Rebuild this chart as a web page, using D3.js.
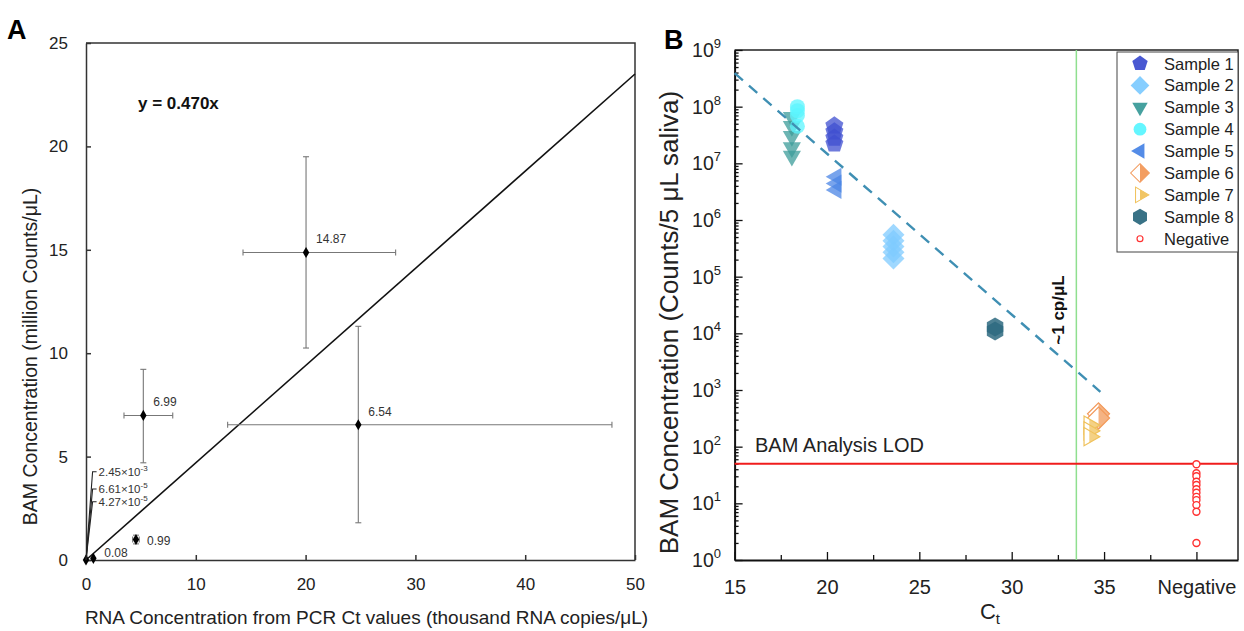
<!DOCTYPE html>
<html>
<head>
<meta charset="utf-8">
<script src="https://cdn.jsdelivr.net/npm/d3@7"></script>
<style>
  body { margin: 0; background: #fff; }
  svg { display: block; font-family: "Liberation Sans", Arial, sans-serif; }
</style>
</head>
<body>
<svg id="chart" width="1244" height="631"></svg>
<script>
// ---- panel A data (RNA vs BAM) ----
const rnaX = [0, 0.67, 4.55, 5.22, 20.04, 24.8]
const bamY = [0, 0.08, 0.99, 6.99, 14.87, 6.54]
const rnaLo = [0, 0.67, 4.25, 3.46, 14.3, 12.9]
const rnaHi = [0, 0.67, 4.85, 7.9, 28.2, 47.9]
const bamLo = [0, 0.08, 0.78, 4.70, 10.25, 1.8]
const bamHi = [0, 0.08, 1.2, 9.22, 19.5, 11.3]
const pointLabels = ['', '0.08', '0.99', '6.99', '14.87', '6.54']
const tinyMant = ['2.45', '6.61', '4.27']
const tinyExp = ['-3', '-5', '-5']
const slope = 0.470
const xTicksA = [0, 10, 20, 30, 40, 50]
const yTicksA = [0, 5, 10, 15, 20, 25]

// ---- panel B data (Ct vs BAM counts) ----
const sampleNames = ['Sample 1', 'Sample 2', 'Sample 3', 'Sample 4', 'Sample 5', 'Sample 6', 'Sample 7', 'Sample 8', 'Negative']
const sampleCt = [20.4, 23.6, 18.1, 18.4, 20.5, 34.7, 34.2, 29.1, 40]
const sampleCounts = [
  [4.6e7, 3.6e7, 2.8e7, 2.2e7],
  [5.5e5, 4.3e5, 3.4e5, 2.7e5, 2.1e5],
  [6.5e7, 4.5e7, 3.0e7, 1.9e7, 1.35e7],
  [1.0e8, 8.5e7, 7.0e7, 4.5e7],
  [5.8e6, 4.4e6, 3.4e6],
  [380, 320],
  [240, 190, 150],
  [1.1e4, 1.3e4],
  [49, 34, 30, 24, 21, 17.7, 15.4, 13, 11.4, 9.3, 7.1, 2.0]
]
const fitCt = [15, 34.8]
const fitCounts = [3.9e8, 930]
const lodValue = 50
const cpCt = 33.5
const xTicksB = [15, 20, 25, 30, 35, 40]
const xTickLabelsB = ['15', '20', '25', '30', '35', 'Negative']
const decades = [0, 1, 2, 3, 4, 5, 6, 7, 8, 9]

const svg = d3.select('#chart')
const font = '"Liberation Sans", Arial, sans-serif'

// =================== Panel A ===================
const xA = d3.scaleLinear().domain([0, 50]).range([86, 635])
const yA = d3.scaleLinear().domain([0, 25]).range([560, 43])
const gA = svg.append('g')

gA.append('text').attr('x', 7).attr('y', 39).attr('font-size', 27).attr('font-weight', 'bold').text('A')

// box
gA.append('path')
  .attr('d', `M${xA(0)},${yA(25)}H${xA(50)}V${yA(0)}`)
  .attr('fill', 'none').attr('stroke', '#333').attr('stroke-width', 1.5)

const axA1 = gA.append('g').attr('transform', `translate(0,${yA(0)})`)
  .call(d3.axisBottom(xA).tickValues(xTicksA).tickSize(-5).tickSizeOuter(0).tickPadding(18))
const axA2 = gA.append('g').attr('transform', `translate(${xA(0)},0)`)
  .call(d3.axisLeft(yA).tickValues(yTicksA).tickSize(-5).tickSizeOuter(0).tickPadding(18))
for (const ax of [axA1, axA2]) {
  ax.attr('font-size', 17).attr('font-family', font)
  ax.selectAll('path,line').attr('stroke', '#333').attr('stroke-width', 1.5)
  ax.selectAll('text').attr('fill', '#222')
}

gA.append('text')
  .attr('x', (xA(0) + xA(50)) / 2 + 6).attr('y', 624)
  .attr('text-anchor', 'middle').attr('font-size', 19).attr('fill', '#222')
  .text('RNA Concentration from PCR Ct values (thousand RNA copies/μL)')
gA.append('text')
  .attr('transform', `translate(37,${(yA(0) + yA(25)) / 2 + 55}) rotate(-90)`)
  .attr('text-anchor', 'middle').attr('font-size', 19.5).attr('fill', '#222')
  .text('BAM Concentration (million Counts/μL)')

// fit line
gA.append('line')
  .attr('x1', xA(0)).attr('y1', yA(0)).attr('x2', xA(50)).attr('y2', yA(slope * 50))
  .attr('stroke', '#111').attr('stroke-width', 1.6)
gA.append('text').attr('x', 138).attr('y', 109)
  .attr('font-size', 17).attr('font-weight', 'bold').attr('fill', '#111')
  .text(`y = ${slope.toFixed(3)}x`)

// error bars
const ptsA = d3.range(rnaX.length)
const errA = gA.append('g').attr('stroke', '#777').attr('stroke-width', 1.1)
ptsA.filter(i => rnaHi[i] > rnaLo[i]).forEach(i => {
  const cy = yA(bamY[i]); const cx = xA(rnaX[i])
  errA.append('line').attr('x1', xA(rnaLo[i])).attr('x2', xA(rnaHi[i])).attr('y1', cy).attr('y2', cy)
  errA.append('line').attr('x1', xA(rnaLo[i])).attr('x2', xA(rnaLo[i])).attr('y1', cy - 3).attr('y2', cy + 3)
  errA.append('line').attr('x1', xA(rnaHi[i])).attr('x2', xA(rnaHi[i])).attr('y1', cy - 3).attr('y2', cy + 3)
  errA.append('line').attr('y1', yA(bamLo[i])).attr('y2', yA(bamHi[i])).attr('x1', cx).attr('x2', cx)
  errA.append('line').attr('y1', yA(bamLo[i])).attr('y2', yA(bamLo[i])).attr('x1', cx - 3).attr('x2', cx + 3)
  errA.append('line').attr('y1', yA(bamHi[i])).attr('y2', yA(bamHi[i])).attr('x1', cx - 3).attr('x2', cx + 3)
})

gA.append('g').selectAll('path').data(ptsA).join('path')
  .attr('transform', i => `translate(${xA(rnaX[i])},${yA(bamY[i])})`)
  .attr('d', d3.symbol(d3.symbolDiamond, 36))
  .attr('fill', '#000')

gA.append('g').selectAll('text').data(ptsA.filter(i => pointLabels[i])).join('text')
  .attr('x', i => xA(rnaX[i]) + (bamY[i] < 2 ? 11 : 10))
  .attr('y', i => yA(bamY[i]) + (bamY[i] < 0.5 ? -1 : bamY[i] < 2 ? 5 : -9))
  .attr('font-size', 12).attr('fill', '#333')
  .text(i => pointLabels[i])

// leader labels for the near-zero samples
const tinyY = [4.27, 3.43, 2.82]
tinyMant.forEach((m, k) => {
  const ex = xA(0.6); const ey = yA(tinyY[k])
  gA.append('path')
    .attr('d', `M${xA(0)},${yA(0)}L${ex},${ey}H${ex + 4}`)
    .attr('fill', 'none').attr('stroke', '#222').attr('stroke-width', 1.1)
  const t = gA.append('text').attr('x', ex + 6).attr('y', ey + 4).attr('font-size', 11.5).attr('fill', '#333')
  t.append('tspan').text(`${m}×10`)
  t.append('tspan').attr('dy', -5).attr('font-size', 8).text(tinyExp[k])
})

// =================== Panel B ===================
const xEnd = 42.25
const xB = d3.scaleLinear().domain([15, xEnd]).range([734.6, 1238])
const yB = d3.scaleLog().domain([1, 1e9]).range([560, 50])
const gB = svg.append('g')

gB.append('text').attr('x', 664).attr('y', 49).attr('font-size', 27).attr('font-weight', 'bold').text('B')

gB.append('path')
  .attr('d', `M${xB(15)},${yB(1e9)}H${xB(xEnd)}V${yB(1)}`)
  .attr('fill', 'none').attr('stroke', '#222').attr('stroke-width', 1.5)

const minorY = []
decades.slice(0, -1).forEach(d => d3.range(2, 10).forEach(k => minorY.push(k * Math.pow(10, d))))
const majorY = decades.map(d => Math.pow(10, d))

const axB1 = gB.append('g').attr('transform', `translate(0,${yB(1)})`)
  .call(d3.axisBottom(xB).tickValues(xTicksB).tickSize(-8).tickSizeOuter(0).tickPadding(20)
    .tickFormat((d, i) => xTickLabelsB[i]))
gB.append('g').attr('transform', `translate(0,${yB(1)})`)
  .call(d3.axisBottom(xB).tickValues(d3.range(17.5, 40, 5)).tickSize(-5).tickSizeOuter(0).tickFormat(''))
  .call(g => g.select('.domain').remove())
const axB2 = gB.append('g').attr('transform', `translate(${xB(15)},0)`)
  .call(d3.axisLeft(yB).tickValues(majorY).tickSize(-8).tickSizeOuter(0).tickFormat(''))
gB.append('g').attr('transform', `translate(${xB(15)},0)`)
  .call(d3.axisLeft(yB).tickValues(minorY).tickSize(-4).tickSizeOuter(0).tickFormat(''))
  .call(g => g.select('.domain').remove())
gB.selectAll('.tick line').attr('stroke', '#111').attr('stroke-width', 1.3)
for (const ax of [axB1, axB2]) {
  ax.attr('font-family', font)
  ax.select('.domain').attr('stroke', '#111').attr('stroke-width', 2)
}
axB1.attr('font-size', 20).selectAll('text').attr('fill', '#222')

gB.append('g').selectAll('text').data(decades).join('text')
  .attr('x', 721).attr('y', d => yB(Math.pow(10, d)) + 7)
  .attr('text-anchor', 'end').attr('font-size', 19.5).attr('fill', '#222')
  .call(t => {
    t.append('tspan').text('10')
    t.append('tspan').attr('dy', -9).attr('font-size', 13).text(d => d)
  })

gB.append('text')
  .attr('transform', `translate(678,${(88 + 557) / 2}) rotate(-90)`)
  .attr('text-anchor', 'middle').attr('font-size', 26).attr('fill', '#222')
  .text('BAM Concentration (Counts/5 μL saliva)')
const ct = gB.append('text').attr('x', 990).attr('y', 619).attr('text-anchor', 'middle')
  .attr('font-size', 22).attr('fill', '#222')
ct.append('tspan').text('C')
ct.append('tspan').attr('dy', 5).attr('font-size', 15).text('t')

// reference lines
gB.append('line').attr('x1', xB(cpCt)).attr('x2', xB(cpCt)).attr('y1', yB(1e9)).attr('y2', yB(1))
  .attr('stroke', '#8fdf8f').attr('stroke-width', 1.5)
gB.append('line').attr('x1', xB(15)).attr('x2', xB(xEnd)).attr('y1', yB(lodValue)).attr('y2', yB(lodValue))
  .attr('stroke', '#f01c1c').attr('stroke-width', 2)
gB.append('text').attr('x', 755).attr('y', 452).attr('font-size', 20).attr('fill', '#222')
  .text('BAM Analysis LOD')
gB.append('text')
  .attr('transform', `translate(1064,310) rotate(-90)`)
  .attr('text-anchor', 'middle').attr('font-size', 17).attr('font-weight', 'bold').attr('fill', '#111')
  .text('~1 cp/μL')

// markers
const poly = (n, r, rot) => d3.range(n).map(i => {
  const a = rot + i * 2 * Math.PI / n
  return [r * Math.sin(a), -r * Math.cos(a)]
})
const closed = d3.line().curve(d3.curveLinearClosed)
const circle = r => d3.symbol(d3.symbolCircle, Math.PI * r * r)()
const shapes = [
  closed(poly(5, 9.5, 0)),
  closed(poly(4, 11, 0)),
  closed(poly(3, 10.5, Math.PI)),
  circle(7.5),
  closed(poly(3, 10.5, -Math.PI / 2)),
  closed(poly(4, 11, 0)),
  closed(poly(3, 10.5, Math.PI / 2)),
  closed(poly(6, 9.5, 0)),
  circle(3.5)
]
const colors = ['#3f4fd0', '#7fcbff', '#3c9c9a', '#5cf6ff', '#4b86e6', '#f2995a', '#f0c25c', '#2e6a80', '#ff3030']
const halfFill = [false, false, false, false, false, true, true, false, false]

const defs = svg.append('defs')
defs.append('clipPath').attr('id', 'rightHalf')
  .append('rect').attr('x', 0).attr('y', -20).attr('width', 40).attr('height', 40)

function drawMarker (g, k, opacity) {
  if (k === 8) {
    g.append('path').attr('d', shapes[k]).attr('fill', '#fff').attr('stroke', colors[k]).attr('stroke-width', 1.4)
  } else if (halfFill[k]) {
    g.append('path').attr('d', shapes[k]).attr('fill', '#fff').attr('stroke', colors[k]).attr('stroke-width', 1.2)
    g.append('path').attr('d', shapes[k]).attr('fill', colors[k]).attr('fill-opacity', opacity)
      .attr('clip-path', 'url(#rightHalf)')
  } else {
    g.append('path').attr('d', shapes[k]).attr('fill', colors[k]).attr('fill-opacity', opacity)
  }
}

const markG = gB.append('g')
sampleCounts.forEach((vals, k) => {
  vals.forEach(v => {
    const g = markG.append('g').attr('transform', `translate(${xB(sampleCt[k])},${yB(v)})`)
    drawMarker(g, k, k === 7 ? 0.85 : 0.75)
  })
})

// fit line (drawn over markers)
gB.append('path')
  .attr('d', d3.line().x(d => xB(d[0])).y(d => yB(d[1]))(fitCt.map((c, i) => [c, fitCounts[i]])))
  .attr('fill', 'none').attr('stroke', '#3f8fb3').attr('stroke-width', 2.4)
  .attr('stroke-dasharray', '11,8')

// legend
const lg = gB.append('g')
lg.append('rect').attr('x', 1117).attr('y', 52).attr('width', 121).attr('height', 200)
  .attr('fill', '#fff').attr('stroke', '#444').attr('stroke-width', 1)
sampleNames.forEach((name, k) => {
  const yy = 63.5 + k * 21.9
  const g = lg.append('g').attr('transform', `translate(1140,${yy}) scale(0.85)`)
  drawMarker(g, k, 0.95)
  lg.append('text').attr('x', 1164).attr('y', yy + 6).attr('font-size', 16.5).attr('fill', '#222').text(name)
})
</script>
</body>
</html>
